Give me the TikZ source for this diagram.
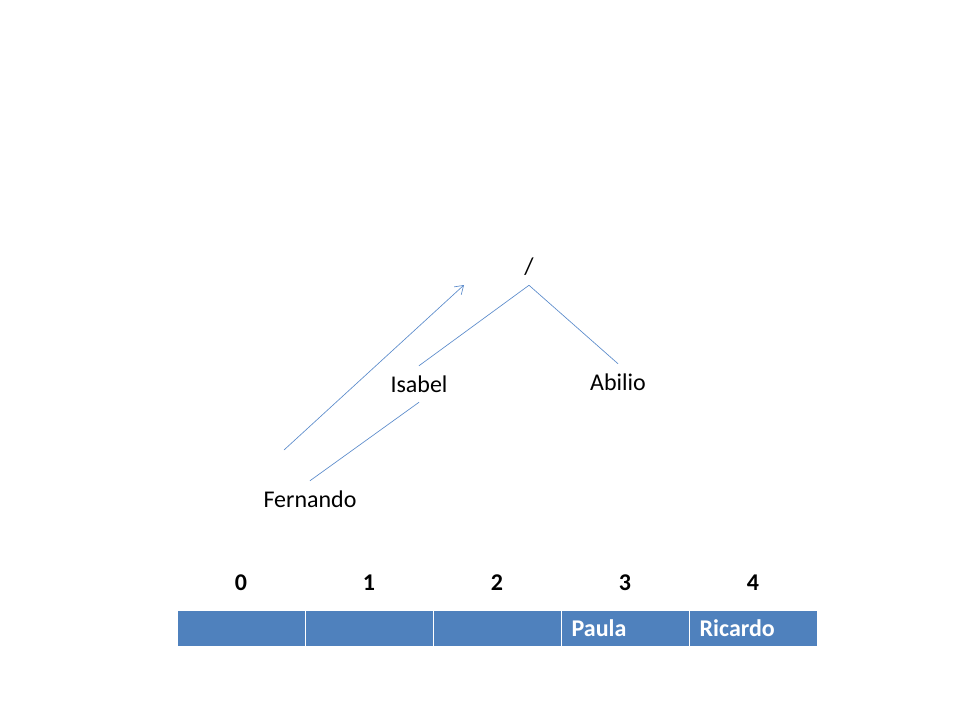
\documentclass[tikz,border=0pt]{standalone}
\usepackage{fontspec}
\setmainfont{Carlito}
\usetikzlibrary{arrows.meta,positioning}
\definecolor{treeline}{HTML}{5B8BCB}
\definecolor{cellblue}{HTML}{4F81BD}
\tikzset{
	person/.style={minimum height=27pt,inner sep=0pt},
	branch/.style={draw=treeline,line width=0.5pt},
	cell/.style={draw=white,fill=cellblue,text=white,font=\bfseries\fontsize{18}{22}\selectfont,
		minimum height=27pt,text width=80pt,inner xsep=8pt,inner ysep=0pt,align=left},
	index/.style={font=\bfseries\fontsize{18}{22}\selectfont}
}
\begin{document}
\begin{tikzpicture}[x=0.75pt,y=-0.75pt,>={Straight Barb[length=6pt,width=8pt]},line join=round,
		line cap=round,font=\fontsize{18}{22}\selectfont]
	\useasboundingbox (0,0) rectangle (960,720);
	\node[person] (root) at (529,267) {/};
	\node[person] (isabel) at (419,384) {Isabel};
	\node[person] (abilio) at (618,382) {Abilio};
	\node[person] (fernando) at (310,499) {Fernando};
	\draw[branch] (root.south) -- (isabel.north);
	\draw[branch] (root.south) -- (abilio.north);
	\draw[branch] (isabel.south) -- (fernando.north);
	\coordinate (walk0) at (284,450);
	\coordinate (walk1) at (464,285);
	\draw[branch,->] (walk0) -- (walk1);
	\foreach \i/\txt in {0/,1/,2/,3/Paula,4/Ricardo}{
		\node[cell] (cell\i) at ({241+128*\i},628) {\txt};
		\node[index] (idx\i) at ({241+128*\i},583) {\i};
	}
\end{tikzpicture}
\end{document}
